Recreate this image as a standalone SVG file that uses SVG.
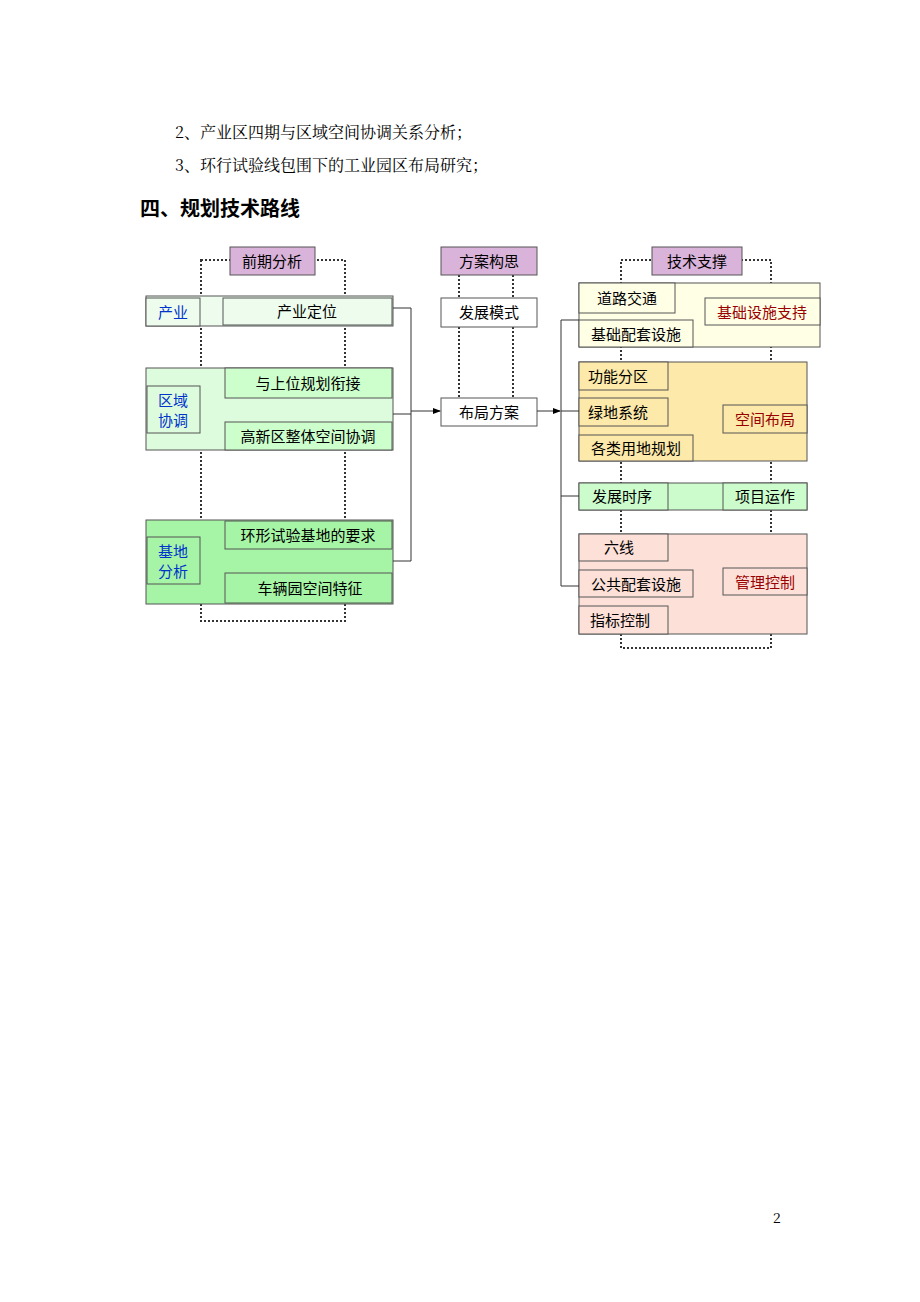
<svg xmlns="http://www.w3.org/2000/svg" width="920" height="1302" viewBox="0 0 920 1302">
<style>
text{font-family:"Noto Sans CJK SC","Liberation Sans",sans-serif;font-size:15px;fill:#000}
.s{font-family:"Noto Serif CJK SC","Liberation Serif","Noto Sans CJK SC",serif;font-size:16px}
.b{stroke:#555;stroke-width:1}
.dot{fill:none;stroke:#333;stroke-width:2;stroke-dasharray:2 2}
.ln{fill:none;stroke:#333;stroke-width:1}
.blue{fill:#0033cc}
.red{fill:#990000}
.c{text-anchor:middle}
</style>
<defs><marker id="a" markerWidth="8" markerHeight="8" refX="7" refY="4" orient="auto"><path d="M0,1 L8,4 L0,7z" fill="#000"/></marker></defs>
<text class="s" x="175" y="138">2、产业区四期与区域空间协调关系分析；</text>
<text class="s" x="175" y="171">3、环行试验线包围下的工业园区布局研究；</text>
<text x="140" y="216" style="font-size:20px;font-weight:bold">四、规划技术路线</text>
<text class="s" x="773" y="1223" style="font-size:14px">2</text>
<g id="dots">
<rect class="dot" x="201" y="260" width="144" height="361"/>
<line class="dot" x1="459" y1="275" x2="459" y2="398"/>
<line class="dot" x1="513" y1="275" x2="513" y2="398"/>
<rect class="dot" x="621" y="260" width="150" height="388"/>
</g>
<g id="left">
<rect class="b" x="146" y="296" width="247" height="30" fill="#eefcee"/>
<rect class="b" x="146" y="298" width="54" height="28" fill="#eefcee"/><text class="c blue" x="173" y="318">产业</text>
<rect class="b" x="223" y="298" width="169" height="27" fill="#eefcee"/><text class="c" x="307" y="317">产业定位</text>
<rect class="b" x="146" y="368" width="247" height="82" fill="#ddfbdd"/>
<rect class="b" x="225" y="368" width="167" height="30" fill="#ccffcc"/><text class="c" x="308" y="389">与上位规划衔接</text>
<rect class="b" x="147" y="386" width="53" height="47" fill="#ddfbdd"/><text class="c blue" x="173" y="406">区域</text><text class="c blue" x="173" y="426">协调</text>
<rect class="b" x="225" y="422" width="167" height="28" fill="#ccffcc"/><text class="c" x="308" y="442">高新区整体空间协调</text>
<rect class="b" x="146" y="520" width="247" height="84" fill="#a6f5a6"/>
<rect class="b" x="225" y="521" width="167" height="28" fill="#a6f5a6"/><text class="c" x="308" y="541">环形试验基地的要求</text>
<rect class="b" x="147" y="537" width="53" height="47" fill="#a6f5a6"/><text class="c blue" x="173" y="557">基地</text><text class="c blue" x="173" y="577">分析</text>
<rect class="b" x="225" y="573" width="167" height="30" fill="#a6f5a6"/><text class="c" x="310" y="594">车辆园空间特征</text>
</g>
<g id="mid">
<rect class="b" x="441" y="247" width="96" height="28" fill="#d9b3d9"/><text class="c" x="489" y="267">方案构思</text>
<rect class="b" x="441" y="298" width="96" height="29" fill="#fff"/><text class="c" x="489" y="318">发展模式</text>
<rect class="b" x="441" y="398" width="96" height="28" fill="#fff"/><text class="c" x="489" y="418">布局方案</text>
<rect class="b" x="230" y="247" width="85" height="28" fill="#d9b3d9"/><text class="c" x="272" y="267">前期分析</text>
<rect class="b" x="652" y="247" width="90" height="28" fill="#d9b3d9"/><text class="c" x="697" y="267">技术支撑</text>
</g>
<g id="right">
<rect class="b" x="579" y="283" width="241" height="64" fill="#ffffe6"/>
<rect class="b" x="579" y="283" width="96" height="30" fill="#ffffe6"/><text class="c" x="627" y="304">道路交通</text>
<rect class="b" x="705" y="298" width="115" height="27" fill="#ffffe6"/><text class="c red" x="762" y="318">基础设施支持</text>
<rect class="b" x="579" y="320" width="114" height="27" fill="#ffffe6"/><text class="c" x="636" y="340">基础配套设施</text>
<rect class="b" x="579" y="362" width="228" height="99" fill="#fde9a9"/>
<rect class="b" x="579" y="362" width="89" height="28" fill="#fde9a9"/><text class="c" x="618" y="382">功能分区</text>
<rect class="b" x="579" y="398" width="89" height="28" fill="#fde9a9"/><text class="c" x="618" y="418">绿地系统</text>
<rect class="b" x="723" y="405" width="84" height="28" fill="#fde9a9"/><text class="c red" x="765" y="425">空间布局</text>
<rect class="b" x="579" y="435" width="114" height="26" fill="#fde9a9"/><text class="c" x="636" y="454">各类用地规划</text>
<rect class="b" x="579" y="483" width="228" height="27" fill="#ccfccc"/>
<rect class="b" x="579" y="483" width="89" height="27" fill="#ccfccc"/><text class="c" x="622" y="502">发展时序</text>
<rect class="b" x="723" y="483" width="84" height="27" fill="#ccfccc"/><text class="c" x="765" y="502">项目运作</text>
<rect class="b" x="579" y="534" width="228" height="100" fill="#fde1d8"/>
<rect class="b" x="579" y="534" width="89" height="27" fill="#fde1d8"/><text class="c" x="619" y="553">六线</text>
<rect class="b" x="579" y="570" width="114" height="27" fill="#fde1d8"/><text class="c" x="636" y="590">公共配套设施</text>
<rect class="b" x="723" y="568" width="84" height="27" fill="#fde1d8"/><text class="c red" x="765" y="588">管理控制</text>
<rect class="b" x="579" y="606" width="89" height="28" fill="#fde1d8"/><text class="c" x="620" y="626">指标控制</text>
</g>
<g id="connectors">
<path class="ln" d="M393,308 H411 V561 H393 M393,414 H411"/>
<path class="ln" d="M411,411 H440" marker-end="url(#a)"/>
<path class="ln" d="M537,411 H560" marker-end="url(#a)"/>
<path class="ln" d="M579,320 H561 V586 H579 M561,411 H579 M561,496 H579"/>
</g>
</svg>
